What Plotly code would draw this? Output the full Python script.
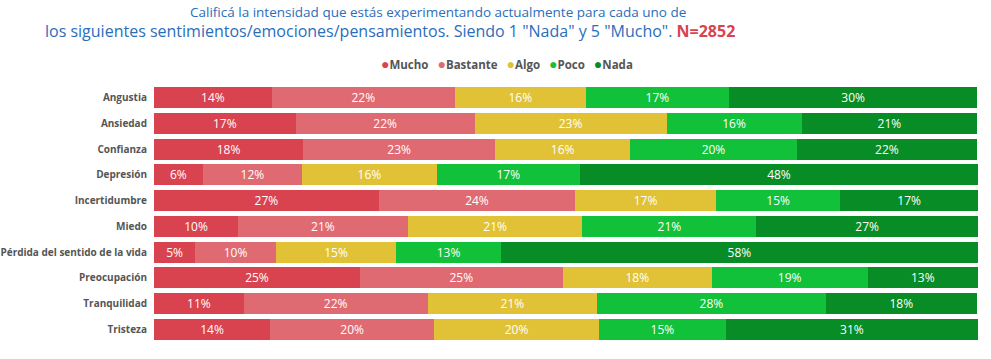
import plotly.graph_objects as go

categories = ["Angustia", "Ansiedad", "Confianza", "Depresión", "Incertidumbre",
              "Miedo", "Pérdida del sentido de la vida", "Preocupación",
              "Tranquilidad", "Tristeza"]

mucho    = [14.3, 17.2, 18.1, 5.9, 27.3, 10.2, 5.0, 25.0, 10.9, 14.1]
bastante = [22.2, 21.7, 23.3, 12.1, 23.8, 20.6, 9.8, 24.6, 22.3, 19.9]
algo     = [15.9, 23.3, 16.4, 16.3, 17.1, 21.2, 14.6, 18.1, 20.6, 20.0]
poco     = [17.4, 16.4, 20.2, 17.4, 15.1, 21.1, 12.7, 18.9, 27.7, 15.4]
nada     = [30.1, 21.3, 21.9, 48.3, 16.7, 26.9, 57.9, 13.4, 18.4, 30.6]

series_names = ["Mucho", "Bastante", "Algo", "Poco", "Nada"]
series_values = [mucho, bastante, algo, poco, nada]
colors = ["#d9434f", "#e06a72", "#e1c236", "#12c13a", "#078c26"]

title_line1 = "Calificá la intensidad que estás experimentando actualmente para cada uno de"
title_line2 = 'los siguientes sentimientos/emociones/pensamientos. Siendo 1 "Nada" y 5 "Mucho". '
n_label = "N=2852"

W, H = 991, 359
L, R, T, B = 154, 13, 85, 17

fig = go.Figure()
for name, vals, col in zip(series_names, series_values, colors):
    fig.add_trace(go.Bar(
        y=categories, x=vals, name=name, orientation="h",
        marker=dict(color=col, line=dict(width=0)),
        texttemplate="%{x:.0f}%", textposition="inside",
        insidetextanchor="middle", textangle=0, constraintext="none",
        textfont=dict(color="white", size=12, family="Open Sans"),
        showlegend=False,
    ))

legend_text = "\u00a0\u00a0\u00a0".join(
    f'<span style="color:{c};font-size:14px">●</span><b>{n}</b>'
    for n, c in zip(series_names, colors)
)

pw = W - L - R
ph = H - T - B


def px_to_paper(x, y):
    return (x - L) / pw, 1 + (T - y) / ph


ann = []
for text, x, y, size in [
    (title_line1, 438, 12, 13.5),
    (title_line2 + f'<b><span style="color:#d9434f">{n_label}</span></b>', 390, 31, 16),
]:
    ax, ay = px_to_paper(x, y)
    ann.append(dict(text=text, x=ax, y=ay, xref="paper", yref="paper",
                    showarrow=False, xanchor="center", yanchor="middle",
                    font=dict(size=size, color="#2a6ebb", family="Open Sans")))
ax, ay = px_to_paper(507, 63)
ann.append(dict(text=legend_text, x=ax, y=ay, xref="paper", yref="paper",
                showarrow=False, xanchor="center", yanchor="middle",
                font=dict(size=11.5, color="#555555", family="Open Sans")))

fig.update_layout(
    width=W, height=H,
    barmode="stack", bargap=0.18,
    margin=dict(l=L, r=R, t=T, b=B, autoexpand=False),
    paper_bgcolor="white", plot_bgcolor="white",
    font=dict(family="Open Sans", color="#555555"),
    uniformtext=dict(mode="show", minsize=8),
    showlegend=False,
    annotations=ann,
)

fig.update_xaxes(range=[0, 100], visible=False, fixedrange=True)
fig.update_yaxes(autorange="reversed", showgrid=False, ticks="", automargin=False,
                 ticklabelstandoff=6,
                 tickfont=dict(size=10, color="#555555", family="Open Sans", weight="bold"))

fig.write_html("out.html", config={"displayModeBar": False},
               post_script="document.body.style.margin='0px';document.body.style.overflow='hidden';")
